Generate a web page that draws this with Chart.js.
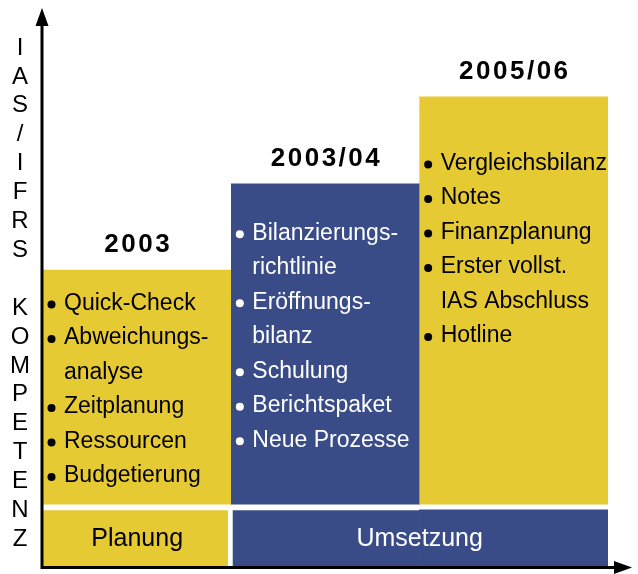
<!DOCTYPE html>
<html>
<head>
<meta charset="utf-8">
<script src="https://cdn.jsdelivr.net/npm/chart.js@4.4.1/dist/chart.umd.min.js"></script>
<style>
  body { margin: 0; background: #fff; }
</style>
</head>
<body>
<canvas id="chartKompetenz" width="638" height="574"></canvas>
<script>
// data
const periods = ["2003", "2003/04", "2005/06"];
const levels = [53.3, 68.8, 84.4];     // top of each step
const levelBase = 11.3;                 // steps start above the phase band
const phaseTop = 10.2;                  // height of the phase band
const phases = ["Planung", "Umsetzung", "Umsetzung"];
const phaseLabels = ["Planung", "Umsetzung"];
const axisTitle = "IAS/IFRS KOMPETENZ";
const items = [
  [["Quick-Check"], ["Abweichungs-", "analyse"], ["Zeitplanung"], ["Ressourcen"], ["Budgetierung"]],
  [["Bilanzierungs-", "richtlinie"], ["Eröffnungs-", "bilanz"], ["Schulung"], ["Berichtspaket"], ["Neue Prozesse"]],
  [["Vergleichsbilanz"], ["Notes"], ["Finanzplanung"], ["Erster vollst.", "IAS Abschluss"], ["Hotline"]],
];

const yellow = "rgb(230, 202, 52)";
const blue = "rgb(57, 76, 135)";
const levelColors = [yellow, blue, yellow];
const phaseColors = { Planung: yellow, Umsetzung: blue };
const FONT = "'Liberation Sans', Arial, Helvetica, sans-serif";

// everything that is not a bar: axes, arrows, labels, lists
const decorPlugin = {
  id: "decor",
  afterDatasetsDraw(chart, args, opts) {
    const ctx = chart.ctx;
    const area = chart.chartArea;
    const steps = chart.getDatasetMeta(1).data;
    const band = chart.getDatasetMeta(0).data;
    ctx.save();

    // axes with arrows
    const ax = area.left - 1;
    const ay = area.bottom + 0.5;
    ctx.strokeStyle = "#000";
    ctx.fillStyle = "#000";
    ctx.lineWidth = 3;
    ctx.beginPath();
    ctx.moveTo(ax, ay + 1.5);
    ctx.lineTo(ax, 24);
    ctx.moveTo(ax - 1.5, ay);
    ctx.lineTo(616, ay);
    ctx.stroke();
    ctx.beginPath();
    ctx.moveTo(ax, 8);
    ctx.lineTo(ax - 6.5, 26);
    ctx.lineTo(ax + 6.5, 26);
    ctx.closePath();
    ctx.fill();
    ctx.beginPath();
    ctx.moveTo(632, ay);
    ctx.lineTo(614, ay - 6.5);
    ctx.lineTo(614, ay + 6.5);
    ctx.closePath();
    ctx.fill();

    // vertical axis title, one letter under the other
    ctx.font = "24px " + FONT;
    ctx.textAlign = "center";
    ctx.textBaseline = "middle";
    axisTitle.split("").forEach((ch, i) => {
      ctx.fillText(ch, 20, 48 + i * 28.9);
    });

    steps.forEach((bar, i) => {
      const left = bar.x - bar.width / 2;
      // period label above the step
      ctx.font = "bold 26px " + FONT;
      ctx.letterSpacing = "2.5px";
      ctx.fillStyle = "#000";
      ctx.textAlign = "center";
      ctx.fillText(periods[i], bar.x + 1, bar.y - 25);
      ctx.letterSpacing = "0px";

      // bullet list inside the step
      const txtColor = levelColors[i] === blue ? "#fff" : "#000";
      ctx.fillStyle = txtColor;
      ctx.font = "23px " + FONT;
      ctx.textAlign = "left";
      let y = bar.y + opts.listOffset[i];
      items[i].forEach((lines) => {
        ctx.beginPath();
        ctx.arc(left + 8.5, y + 1, 4, 0, Math.PI * 2);
        ctx.fill();
        lines.forEach((line) => {
          ctx.fillText(line, left + 21, y);
          y += opts.lineStep;
        });
      });
    });

    // phase labels in the band
    ctx.font = "25px " + FONT;
    ctx.textAlign = "center";
    phaseLabels.forEach((name) => {
      const idx = phases.map((p, j) => (p === name ? j : -1)).filter((j) => j >= 0);
      const first = band[idx[0]];
      const last = band[idx[idx.length - 1]];
      const x0 = first.x - first.width / 2;
      const x1 = last.x + last.width / 2;
      ctx.fillStyle = phaseColors[name] === blue ? "#fff" : "#000";
      ctx.fillText(name, (x0 + x1) / 2, (first.y + first.base) / 2 + 1);
    });

    ctx.restore();
  },
};

const chart = new Chart("chartKompetenz", {
  type: "bar",
  data: {
    labels: periods,
    datasets: [
      {
        label: "Phase",
        data: phases.map(() => [0, phaseTop]),
        backgroundColor: phases.map((p) => phaseColors[p]),
        borderColor: "#fff",
        borderSkipped: false,
        inflateAmount: 0.6,
        borderWidth: (c) => {
          if (c.dataIndex === 0) return { left: 0, right: 4, top: 0, bottom: 0 };
          if (c.dataIndex === 1) return { left: 2, right: 0, top: 0, bottom: 0 };
          return 0;
        },
      },
      {
        label: "Kompetenz",
        data: levels.map((v) => [levelBase, v]),
        backgroundColor: levelColors,
        borderWidth: 0,
      },
    ],
  },
  options: {
    responsive: false,
    animation: false,
    layout: { padding: { left: 43, right: 30, top: 10, bottom: 7 } },
    datasets: {
      bar: { grouped: false, barPercentage: 1, categoryPercentage: 1 },
    },
    scales: {
      x: { display: false },
      y: { display: false, min: 0, max: 100 },
    },
    plugins: {
      legend: { display: false },
      tooltip: { enabled: false },
      decor: { listOffset: [33.5, 49.5, 66.5], lineStep: 34.5 },
    },
  },
  plugins: [decorPlugin],
});
</script>
</body>
</html>
